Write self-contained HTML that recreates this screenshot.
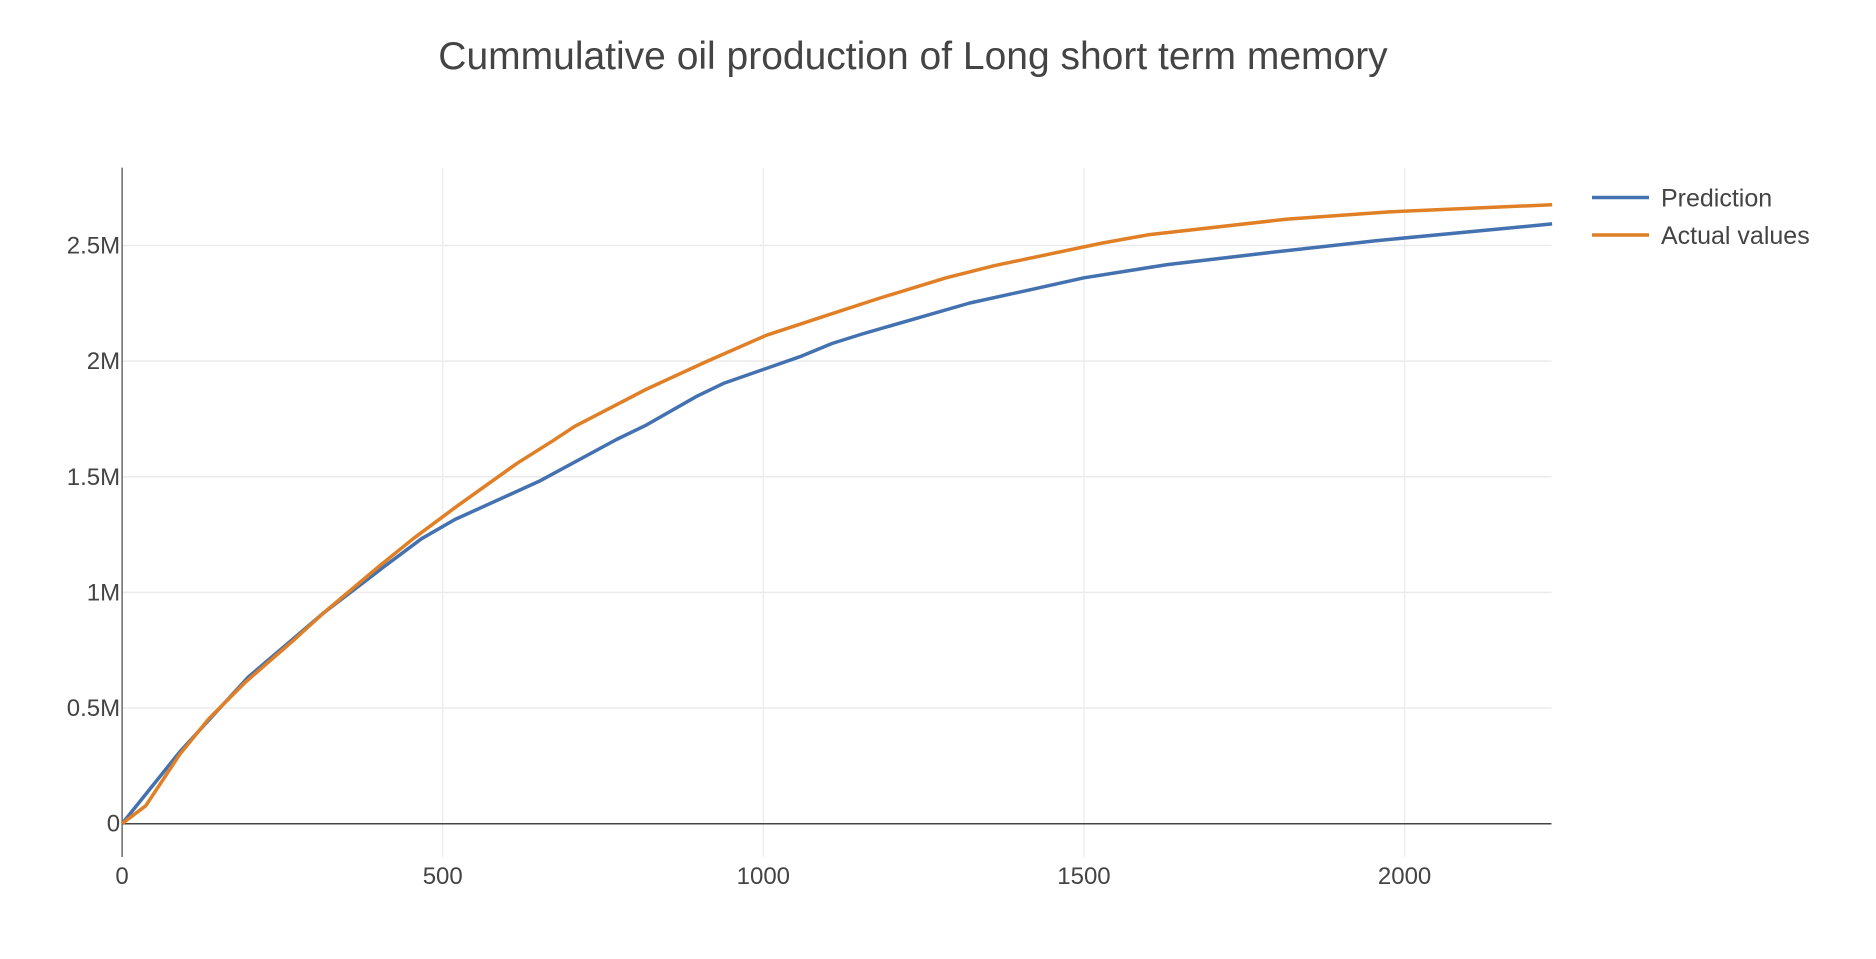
<!DOCTYPE html>
<html><head><meta charset="utf-8"><style>
body{margin:0;background:#fff;font-family:"Liberation Sans",sans-serif;}
svg text{font-family:"Liberation Sans",sans-serif;fill:#444;}
</style></head><body>
<svg id="chart" width="1876" height="954" viewBox="0 0 1876 954" xmlns="http://www.w3.org/2000/svg">
<text x="913" y="69" text-anchor="middle" font-size="39">Cummulative oil production of Long short term memory</text>
<g id="grid"></g>
<g id="axes"></g>
<g id="series"></g>
<g>
<g>
<line x1="1592" y1="197.5" x2="1649" y2="197.5" stroke="#4472b0" stroke-width="3.5"/>
<text x="1661" y="206.5" font-size="25">Prediction</text></g>
<g>
<line x1="1592" y1="235" x2="1649" y2="235" stroke="#e07f25" stroke-width="3.5"/>
<text x="1661" y="244" font-size="25">Actual values</text></g>
</g>
</svg>
<script>
const predX=[0,90,196,314,407,467,519,650,771,818,896,939,1057,1107,1154,1322,1415,1500,1630,1789,1957,2230];
const predY=[0,0.311,0.632,0.911,1.108,1.232,1.315,1.480,1.661,1.724,1.848,1.905,2.019,2.076,2.117,2.251,2.308,2.360,2.417,2.469,2.521,2.593];
const actX=[0,37,90,136,192,267,314,403,454,519,616,672,706,818,911,1005,1107,1182,1285,1359,1528,1602,1817,1976,2230];
const actY=[0,0.078,0.300,0.456,0.611,0.792,0.911,1.118,1.232,1.366,1.558,1.656,1.718,1.879,1.998,2.112,2.205,2.273,2.360,2.412,2.510,2.547,2.614,2.645,2.676];
const xTicks=[0,500,1000,1500,2000];
const xTickLabels=["0","500","1000","1500","2000"];
const yTicks=[0,0.5,1,1.5,2,2.5];
const yTickLabels=["0","0.5M","1M","1.5M","2M","2.5M"];
const NS="http://www.w3.org/2000/svg";
const X0=122.1,X2000=1404.6,XR=1551.5,Y0=823.7,PPM=231.3,YTOP=167.6,YBOT=857;
const sx=v=>X0+(X2000-X0)*v/2000;
const sy=v=>Y0-PPM*v;
function mk(t,a,p){const e=document.createElementNS(NS,t);for(const k in a)e.setAttribute(k,a[k]);p.appendChild(e);return e;}
const grid=document.getElementById('grid'),axes=document.getElementById('axes'),ser=document.getElementById('series');
xTicks.forEach((v,i)=>{
  if(v>0){const g=mk('line',{x1:sx(v),x2:sx(v),y1:YTOP,y2:YBOT,stroke:'#ebebeb','stroke-width':1.2},grid);
  
  }
  const t=mk('text',{x:sx(v),y:884,'text-anchor':'middle','font-size':24},axes);t.textContent=xTickLabels[i];
  
  
});
yTicks.forEach((v,i)=>{
  if(v>0){const g=mk('line',{x1:X0,x2:XR,y1:sy(v),y2:sy(v),stroke:'#ebebeb','stroke-width':1.5},grid);
  
  }
  const t=mk('text',{x:X0-2,y:sy(v)+8,'text-anchor':'end','font-size':24},axes);t.textContent=yTickLabels[i];
  
  
});
const ya=mk('line',{x1:X0,x2:X0,y1:YTOP,y2:YBOT,stroke:'#444','stroke-width':1.2},axes);


const za=mk('line',{x1:X0,x2:XR,y1:Y0,y2:Y0,stroke:'#444','stroke-width':1.5},axes);


function line(xs,ys,c,name){
  const d=xs.map((x,i)=>(i?'L':'M')+sx(x).toFixed(1)+' '+sy(ys[i]).toFixed(1)).join(' ');
  const p=mk('path',{d:d,fill:'none',stroke:c,'stroke-width':3.5,'stroke-linejoin':'round'},ser);
  
  
}
line(predX,predY,'#4472b0','prediction-line');
line(actX,actY,'#e07f25','actual-values-line');
</script>
</body></html>
